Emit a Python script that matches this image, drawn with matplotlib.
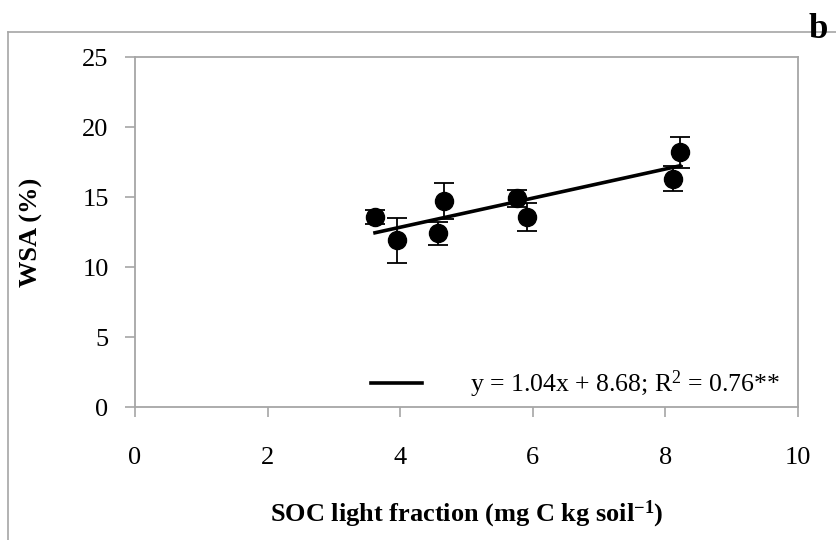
import matplotlib
matplotlib.use("Agg")
import matplotlib.pyplot as plt
from matplotlib.lines import Line2D
import numpy as np

# Data
soc_lf = [3.62, 3.95, 4.57, 4.66, 5.76, 5.91, 8.11, 8.22]
wsa = [13.6, 11.9, 12.4, 14.7, 14.9, 13.6, 16.3, 18.2]
wsa_err = [0.5, 1.6, 0.8, 1.3, 0.6, 1.0, 0.9, 1.1]
slope, intercept = 1.04, 8.68
eq_label = "y = 1.04x + 8.68; R$^{2}$ = 0.76**"
x_ticks = [0, 2, 4, 6, 8, 10]
y_ticks = [0, 5, 10, 15, 20, 25]

plt.rcParams['font.family'] = ['Liberation Serif', 'DejaVu Serif']
plt.rcParams['mathtext.fontset'] = 'custom'
plt.rcParams['mathtext.rm'] = 'Liberation Serif'
plt.rcParams['mathtext.bf'] = 'Liberation Serif:bold'
plt.rcParams['mathtext.it'] = 'Liberation Serif:italic'

fs = 19
grey = '#a6a6a6'

fig = plt.figure(figsize=(8.36, 5.40), dpi=100)
ax = fig.add_axes([135/836, 1-407/540, (798-135)/836, (407-57)/540])

# figure frame lines (partial border)
fig.add_artist(Line2D([8/836, 1.0], [1-32/540, 1-32/540], color=grey, lw=1.2, transform=fig.transFigure))
fig.add_artist(Line2D([8/836, 8/836], [0, 1-32/540], color=grey, lw=1.2, transform=fig.transFigure))

ax.errorbar(soc_lf, wsa, yerr=wsa_err, fmt='o', color='black', ms=13,
            ecolor='black', elinewidth=1.3, capsize=7, capthick=1.3, zorder=3)

xs = np.array([min(soc_lf), max(soc_lf)])
line, = ax.plot(xs, slope*xs + intercept, color='black', lw=2.6, zorder=2)

ax.set_xlim(0, 10)
ax.set_ylim(0, 25)
ax.set_xticks(x_ticks)
ax.set_yticks(y_ticks)
ax.set_xticklabels([str(t) for t in x_ticks])
ax.set_yticklabels([str(t) for t in y_ticks])
for s in ax.spines.values():
    s.set_color(grey)
    s.set_linewidth(1.3)
ax.tick_params(axis='both', direction='out', length=7, width=1.2, color=grey,
               labelsize=fs, labelcolor='black')
ax.tick_params(axis='x', pad=22)
ax.tick_params(axis='y', pad=12)

ax.set_xlabel("SOC light fraction (mg C kg soil$^{\\mathbf{-1}}$)", fontsize=fs,
              fontweight='bold', labelpad=21)
ax.set_ylabel("WSA (%)", fontsize=fs, fontweight='bold', labelpad=28)

leg = ax.legend([line], [eq_label], loc='center right', bbox_to_anchor=(1.008, 0.065),
                frameon=False, fontsize=18.5, handlelength=2.0, handletextpad=1.85)

fig.text(818/836, 1-30/540, 'b', fontsize=25, fontweight='bold', ha='center', va='center')

fig.savefig('out.png', dpi=100)
